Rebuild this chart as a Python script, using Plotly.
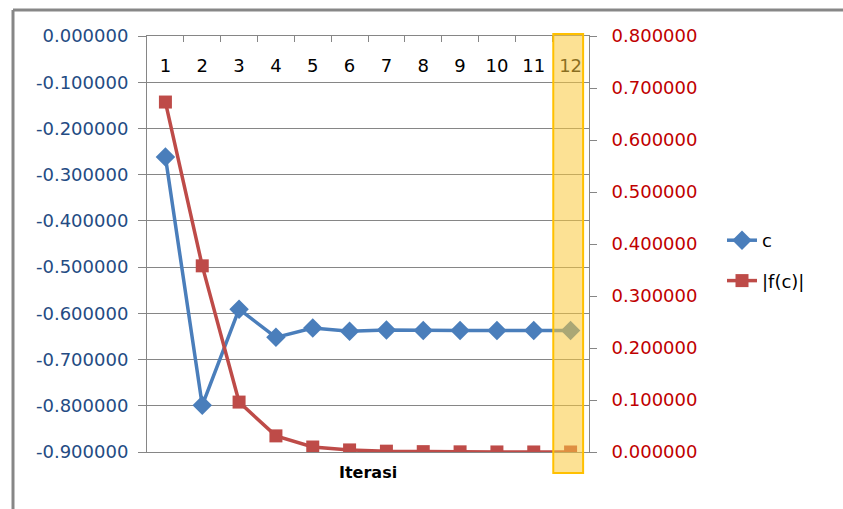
import plotly.graph_objects as go

# Iteration results: root estimate c and residual |f(c)|
iterasi = [str(i) for i in range(1, 13)]
c_vals = [-0.262, -0.799, -0.591, -0.652, -0.632, -0.639, -0.636, -0.637, -0.637, -0.637, -0.637, -0.637]
fc_vals = [0.673, 0.358, 0.096, 0.031, 0.0096, 0.0040, 0.0016, 0.0007, 0.0003, 0.0001, 0.00005, 0.00002]
left_ticks = [0.0, -0.1, -0.2, -0.3, -0.4, -0.5, -0.6, -0.7, -0.8, -0.9]
right_ticks = [0.0, 0.1, 0.2, 0.3, 0.4, 0.5, 0.6, 0.7, 0.8]

W, H = 843, 509
L, R, T, B = 147, 254, 36, 57
pw, ph = W - L - R, H - T - B

FONT = "DejaVu Sans"
BLUE = "#4a7ebb"
RED = "#be4b48"
GRID = "#868686"


def px_x(p):
    return (p - L) / pw


def px_y(p):
    return (H - B - p) / ph


def fmt(v):
    return f"{v:.6f}"


fig = go.Figure()
fig.add_trace(go.Scatter(
    x=iterasi, y=c_vals, name="c", mode="lines+markers",
    line=dict(color=BLUE, width=3.5),
    marker=dict(symbol="diamond", size=15, color=BLUE),
    legendgroup="a", xaxis="x", yaxis="y",
))
fig.add_trace(go.Scatter(
    x=iterasi, y=fc_vals, name="|f(c)|", mode="lines+markers",
    line=dict(color=RED, width=3.5),
    marker=dict(symbol="square", size=13, color=RED),
    legendgroup="b", xaxis="x2", yaxis="y2",
))

cat_range = [-0.5, len(iterasi) - 0.5]

shapes = [
    # highlighted final iteration
    dict(type="rect", xref="x", yref="paper", x0=10.53, x1=11.34,
         y0=px_y(473), y1=px_y(34), fillcolor="rgba(250,200,60,0.55)",
         line=dict(color="#ffc000", width=2), layer="above"),
    # chart frame (top and left edges)
    dict(type="line", xref="paper", yref="paper", x0=px_x(13), x1=px_x(845),
         y0=px_y(10), y1=px_y(10), line=dict(color="#878787", width=3)),
    dict(type="line", xref="paper", yref="paper", x0=px_x(13), x1=px_x(13),
         y0=px_y(10), y1=px_y(512), line=dict(color="#878787", width=3)),
]

fig.update_layout(
    width=W, height=H,
    margin=dict(l=L, r=R, t=T, b=B),
    paper_bgcolor="white", plot_bgcolor="white",
    font=dict(family=FONT, size=18, color="black"),
    showlegend=True,
    legend=dict(x=px_x(722), y=px_y(222), xanchor="left", yanchor="top",
                tracegroupgap=14, font=dict(size=18, family=FONT),
                bgcolor="rgba(0,0,0,0)"),
    shapes=shapes,
    # category axis line along the top with tick marks between categories
    xaxis=dict(
        type="category", range=cat_range, side="top", showline=True,
        linecolor=GRID, linewidth=1, mirror=True,
        ticks="inside", ticklen=6, tickcolor=GRID, tickson="boundaries",
        showticklabels=False, showgrid=False,
    ),
    # category labels sitting just below the top axis line
    xaxis2=dict(
        type="category", range=cat_range, overlaying="x", side="bottom",
        anchor="free", position=px_y(53), showline=False, ticks="",
        showgrid=False, tickfont=dict(size=18, color="black", family=FONT),
    ),
    yaxis=dict(
        range=[-0.9, 0.0], tickvals=left_ticks,
        ticktext=[fmt(v) for v in left_ticks],
        showline=True, linecolor=GRID, linewidth=1,
        ticks="outside", ticklen=8, tickcolor=GRID,
        showgrid=True, gridcolor=GRID, gridwidth=1, zeroline=False,
        tickfont=dict(size=18, color="#244b83", family=FONT),
        ticklabelstandoff=6,
    ),
    yaxis2=dict(
        range=[0.0, 0.8], tickvals=right_ticks,
        ticktext=[fmt(v) for v in right_ticks],
        overlaying="y", side="right", anchor="x",
        showline=True, linecolor=GRID, linewidth=1,
        ticks="outside", ticklen=7, tickcolor=GRID,
        showgrid=False, zeroline=False,
        tickfont=dict(size=18, color="#c00000", family=FONT),
        ticklabelstandoff=11,
    ),
    annotations=[
        dict(text="<b>Iterasi</b>", xref="paper", yref="paper",
             x=px_x(368), y=px_y(472), xanchor="center", yanchor="middle",
             showarrow=False, font=dict(size=16, family=FONT, color="black")),
    ],
)

fig.write_html("out.html")
